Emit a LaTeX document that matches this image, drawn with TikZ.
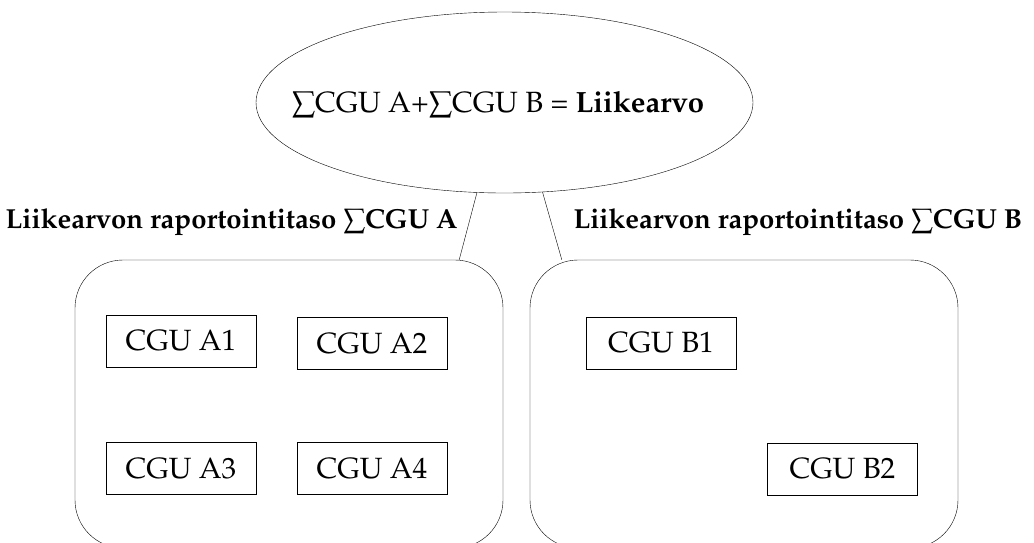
\documentclass[tikz,border=0pt]{standalone}
\usepackage[T1]{fontenc}
\usepackage{mathpazo}
\usepackage{tikz}
\usetikzlibrary{shapes,arrows,positioning}

\begin{document}
\begin{tikzpicture}[x=1pt,y=-1pt,
    every node/.style={font=\fontsize{29.3}{35}\selectfont},
    summa/.style={draw,ellipse,minimum width=497pt,minimum height=181pt,inner sep=0pt},
    taso/.style={draw,rectangle,rounded corners=48pt,minimum width=428pt,minimum height=288pt},
    otsikko/.style={font=\fontsize{27.5}{33}\selectfont\bfseries},
    cgu/.style={draw,rectangle,minimum width=150pt,minimum height=52pt,inner sep=0pt}]
  \useasboundingbox (0,0) rectangle (1034,542);
  % ylin taso
  \node[summa] (liikearvo) at (504.5,102.5) {};
  \node[anchor=base] (kaava) at (498,112) {$\sum$CGU A+$\sum$CGU B = \textbf{Liikearvo}};
  % raportointitasot
  \node[taso] (tasoA) at (289,404) {};
  \node[taso] (tasoB) at (744,404) {};
  \node[otsikko,anchor=base east] (otsikkoA) at (461,228) {Liikearvon raportointitaso $\sum$CGU A};
  \node[otsikko,anchor=base west] (otsikkoB) at (570,228) {Liikearvon raportointitaso $\sum$CGU B};
  \draw (liikearvo.-107) -- ([xshift=-44pt]tasoA.north east);
  \draw (liikearvo.-67) -- ([xshift=32pt]tasoB.north west);
  % yksikot
  \node[cgu] (a1) at (181,341) {CGU A1};
  \node[cgu] (a2) at (372,343.5) {CGU A2};
  \node[cgu] (a3) at (181,468.5) {CGU A3};
  \node[cgu] (a4) at (372,468.5) {CGU A4};
  \node[cgu] (b1) at (661,343) {CGU B1};
  \node[cgu] (b2) at (842.5,469) {CGU B2};
\end{tikzpicture}
\end{document}
